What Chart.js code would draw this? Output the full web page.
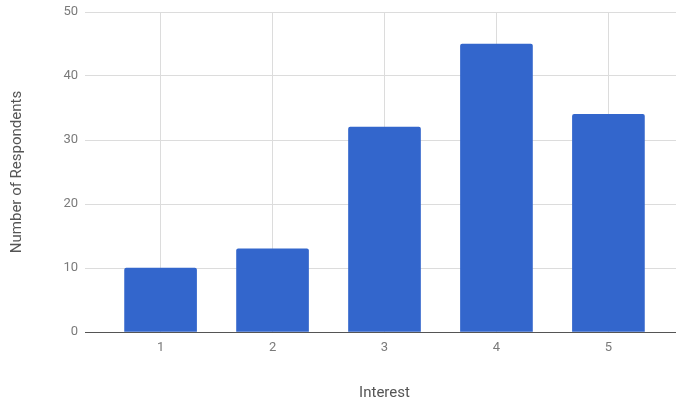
<!DOCTYPE html>
<html>
<head>
<meta charset="utf-8">
<script src="https://cdn.jsdelivr.net/npm/chart.js@4.4.1/dist/chart.umd.min.js"></script>
<style>
  html, body { margin: 0; padding: 0; background: #fff; overflow: hidden; }
  #wrap { width: 684px; height: 404px; }
</style>
</head>
<body>
<div id="wrap"><canvas id="chart" width="684" height="404"></canvas></div>
<script>
// Interest level (1-5) and how many respondents chose each
const interestLevels = [1, 2, 3, 4, 5];
const interestLabels = ['1', '2', '3', '4', '5'];
const respondents = [10, 13, 32, 45, 34];
const yTicks = [0, 10, 20, 30, 40, 50];

const tickFont = { family: 'Roboto', size: 13 };
const titleFont = { family: 'Roboto', size: 15 };

new Chart(document.getElementById('chart'), {
  type: 'bar',
  data: {
    datasets: [{
      label: 'Respondents',
      data: interestLevels.map((lvl, i) => ({ x: lvl, y: respondents[i] })),
      backgroundColor: '#3366cc',
      borderWidth: 0,
      borderRadius: { topLeft: 2, topRight: 2 },
      borderSkipped: 'start',
      barThickness: 72
    }]
  },
  options: {
    responsive: false,
    animation: false,
    layout: { padding: { top: 12, right: 0, bottom: 0, left: 0 } },
    plugins: { legend: { display: false }, tooltip: { enabled: false } },
    scales: {
      x: {
        type: 'linear',
        offset: false,
        min: 0.325,
        max: 5.675,
        afterBuildTicks: (scale) => {
          scale.ticks = interestLevels.map(v => ({ value: v }));
        },
        afterFit: (scale) => {
          scale.height = 72;
          scale.paddingLeft = 0;
          scale.paddingRight = 0;
        },
        ticks: {
          callback: (v) => interestLabels[interestLevels.indexOf(v)],
          color: '#7a7a7a',
          font: tickFont,
          padding: 8,
          maxRotation: 0
        },
        grid: { color: '#dcdcdc', drawTicks: false, offset: false },
        border: { display: true, color: '#555', width: 1 },
        title: {
          display: true,
          text: 'Interest',
          color: '#555',
          font: titleFont,
          padding: { top: 0, bottom: 2 }
        }
      },
      y: {
        min: 0,
        max: 50,
        afterBuildTicks: (scale) => {
          scale.ticks = yTicks.map(v => ({ value: v }));
        },
        afterFit: (scale) => {
          scale.width = 85;
          scale.paddingTop = 0;
          scale.paddingBottom = 0;
        },
        ticks: {
          color: '#7a7a7a',
          font: tickFont,
          padding: 7
        },
        grid: { color: '#dcdcdc', drawTicks: false },
        border: { display: false },
        title: {
          display: true,
          text: 'Number of Respondents',
          color: '#555',
          font: titleFont,
          padding: { top: 8, bottom: 0 }
        }
      }
    }
  }
});
</script>
</body>
</html>
